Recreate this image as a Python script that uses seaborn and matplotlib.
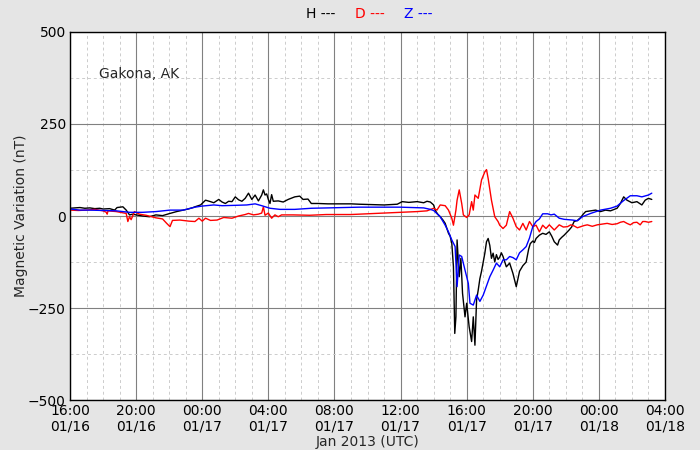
import matplotlib
matplotlib.use("Agg")
import matplotlib.pyplot as plt
import matplotlib.dates as mdates
from matplotlib.ticker import MultipleLocator
import seaborn as sns
import pandas as pd

# ---- data (hours since 2013-01-16 16:00 UTC, values in nT) ----
start_time = "2013-01-16 16:00"

h_hours = [0, 0.3, 0.6, 0.9, 1.2, 1.5, 1.8, 2.0, 2.4, 2.7, 2.85, 3.2, 3.4, 3.6, 3.8, 4.0,
           4.4, 4.8, 5.2, 5.6, 6.05, 6.45, 6.85, 7.15, 7.45, 7.56, 7.9, 8.2, 8.5, 8.7,
           9.0, 9.2, 9.4, 9.6, 9.8, 10.0, 10.2, 10.4, 10.6, 10.8, 11.0, 11.2, 11.4, 11.6,
           11.7, 11.8, 11.9, 12.0, 12.1, 12.2, 12.3, 12.6, 12.9, 13.2, 13.6, 13.9, 14.1,
           14.4, 14.6, 15.0, 15.6, 16.3, 17.0, 17.5, 18.3, 19.0, 19.8, 20.1, 20.5, 21.0,
           21.4, 21.6, 21.8, 22.0, 22.1, 22.25, 22.4, 22.55, 22.7, 22.9, 23.0, 23.1, 23.2,
           23.28, 23.35, 23.42, 23.55, 23.65, 23.75, 23.9, 24.0, 24.15, 24.3, 24.4, 24.5,
           24.6, 24.7, 24.8, 24.9, 25.0, 25.1, 25.2, 25.3, 25.4, 25.5, 25.6, 25.7, 25.8,
           25.9, 26.0, 26.1, 26.2, 26.4, 26.6, 26.8, 27.0, 27.2, 27.4, 27.6, 27.75, 27.85,
           28.0, 28.1, 28.2, 28.4, 28.6, 28.8, 29.0, 29.15, 29.3, 29.5, 29.6, 29.75, 29.9,
           30.05, 30.2, 30.35, 30.5, 30.7, 30.9, 31.05, 31.2, 31.5, 31.8, 32.1, 32.4, 32.7,
           33.1, 33.3, 33.5, 33.7, 34.0, 34.3, 34.6, 34.8, 35.0, 35.2]
h_values = [21, 22, 23, 21, 22, 20, 21, 19, 20, 16, 23, 25, 16, 3, 5, 3,
            0, -2, 3, 1, 7, 12, 16, 19, 23, 25, 30, 43, 39, 36,
            45, 38, 34, 40, 39, 52, 44, 40, 48, 62, 45, 57, 41, 57,
            71, 57, 60, 45, 34, 58, 40, 41, 38, 45, 52, 54, 45,
            46, 34, 34, 33, 33, 33, 32, 31, 30, 32, 39, 37, 39,
            36, 40, 38, 30, 15, 5, -2, -10, -20, -47, -55, -74, -138,
            -319, -274, -65, -165, -115, -210, -274, -237, -301, -341, -274, -351,
            -228, -201, -170, -150, -125, -101, -70, -61, -80, -115, -101, -125, -105,
            -118, -112, -100, -110, -138, -128, -156, -192, -150, -135, -125, -90, -75,
            -68, -72, -61, -52, -47, -50, -43, -55, -70, -79, -65, -58, -52,
            -45, -38, -30, -15, -12, -4, 5, 12, 14, 16, 12, 16, 14,
            21, 34, 52, 43, 36, 39, 30, 43, 48, 45]

d_hours = [0, 0.5, 1.0, 1.5, 2.0, 2.2, 2.25, 2.3, 2.8, 3.4, 3.5, 3.6, 3.7, 3.9, 4.2,
           4.6, 5.2, 5.6, 5.85, 6.05, 6.2, 6.65, 7.2, 7.56, 7.8, 8.0, 8.2, 8.5, 8.9,
           9.3, 9.8, 10.2, 10.6, 10.8, 11.1, 11.4, 11.6, 11.7, 11.8, 12.0, 12.2, 12.4,
           12.6, 12.8, 13.5, 14.5, 15.5, 17.0, 18.0, 19.0, 20.0, 21.0, 21.6, 22.0, 22.2,
           22.4, 22.7, 22.9, 23.1, 23.2, 23.35, 23.42, 23.55, 23.7, 23.8, 24.0, 24.15,
           24.3, 24.4, 24.5, 24.7, 24.9, 25.1, 25.2, 25.3, 25.5, 25.7, 25.9, 26.0, 26.2,
           26.4, 26.6, 26.8, 27.0, 27.2, 27.4, 27.6, 27.8, 28.0, 28.2, 28.4, 28.6, 28.8,
           29.0, 29.3, 29.6, 29.85, 30.1, 30.3, 30.5, 30.7, 30.9, 31.1, 31.3, 31.6, 31.9,
           32.2, 32.5, 32.8, 33.1, 33.3, 33.5, 33.7, 33.9, 34.1, 34.3, 34.5, 34.65, 34.8,
           35.0, 35.2]
d_values = [16, 15, 16, 18, 14, 10, 5, 14, 12, 7, -15, -2, -10, 12, 5,
            2, -5, -8, -20, -29, -12, -11, -14, -15, -6, -14, -6, -12, -11,
            -4, -6, 0, 4, 7, 3, 5, 8, 25, 2, 8, -6, 3,
            -2, 3, 3, 2, 4, 4, 6, 8, 10, 12, 14, 21, 16,
            30, 28, 16, -6, -25, 16, 43, 71, 34, 3, -4, 3,
            39, 16, 57, 48, 98, 120, 126, 102, 43, -2, -15, -25, -34,
            -25, 12, -6, -29, -38, -20, -38, -15, -29, -25, -43, -25, -34,
            -24, -38, -24, -30, -29, -24, -27, -32, -29, -26, -24, -28, -24,
            -22, -20, -23, -21, -17, -15, -20, -24, -18, -17, -24, -15, -15,
            -17, -15]

z_hours = [0, 0.6, 1.2, 2.0, 2.8, 3.6, 4.4, 5.2, 6.05, 6.85, 7.56, 8.0, 8.7, 9.2,
           10.0, 10.7, 11.2, 11.6, 12.1, 12.7, 13.6, 14.6, 15.6, 17.5, 20.0, 21.4, 21.8,
           22.0, 22.4, 22.7, 22.9, 23.1, 23.3, 23.42, 23.55, 23.7, 23.9, 24.1, 24.2, 24.4,
           24.6, 24.8, 25.0, 25.2, 25.4, 25.6, 25.8, 26.0, 26.2, 26.4, 26.6, 26.8, 27.0,
           27.2, 27.4, 27.6, 27.8, 28.0, 28.2, 28.4, 28.6, 28.9, 29.1, 29.3, 29.6, 29.9,
           30.4, 30.7, 31.0, 31.5, 32.1, 32.7, 33.1, 33.5, 33.9, 34.3, 34.6, 35.0, 35.2]
z_values = [19, 16, 16, 15, 14, 10, 10, 12, 16, 16, 24, 27, 30, 28,
            29, 30, 33, 28, 21, 18, 18, 21, 22, 24, 24, 22, 18,
            15, -2, -25, -43, -65, -83, -192, -106, -110, -147, -183, -237, -242,
            -215, -232, -215, -190, -165, -147, -128, -138, -119, -119, -110, -113, -119,
            -100, -92, -83, -60, -29, -15, -8, 6, 6, 3, 5, -6, -9,
            -11, -13, -2, 7, 16, 21, 27, 42, 55, 55, 52, 57, 62]

series_names = ["H", "D", "Z"]
series_colors = ["black", "red", "blue"]

# ---- build table ----
t0 = pd.Timestamp(start_time)
frames = []
for name, hrs, vals in zip(series_names, [h_hours, d_hours, z_hours], [h_values, d_values, z_values]):
    frames.append(pd.DataFrame({"time": t0 + pd.to_timedelta(hrs, unit="h"),
                                "value": vals, "component": name}))
df = pd.concat(frames, ignore_index=True)

sns.set_style("white")
plt.rcParams["font.family"] = ["DejaVu Sans"]

fig = plt.figure(figsize=(7, 4.5), dpi=100, facecolor="#e5e5e5")
ax = fig.add_axes([0.1, 0.111, 0.85, 0.818])
ax.set_facecolor("white")

sns.lineplot(data=df, x="time", y="value", hue="component",
             palette=dict(zip(series_names, series_colors)),
             hue_order=series_names, linewidth=1.0, legend=False, ax=ax,
             estimator=None, sort=False)

ax.set_xlim(t0, t0 + pd.Timedelta(hours=36))
ax.set_ylim(-500, 500)
ax.yaxis.set_major_locator(MultipleLocator(250))
ax.yaxis.set_minor_locator(MultipleLocator(125))
ax.xaxis.set_major_locator(mdates.HourLocator(byhour=range(0, 24, 4)))
ax.xaxis.set_minor_locator(mdates.HourLocator())
ax.xaxis.set_major_formatter(mdates.DateFormatter("%H:%M\n%m/%d"))

ax.grid(which="major", color="#808080", linestyle="-", linewidth=0.8)
ax.grid(which="minor", color="#cccccc", linestyle=(0, (3, 3)), linewidth=0.7)
ax.set_axisbelow(True)
ax.tick_params(which="both", length=0, labelsize=10, colors="black")
ax.tick_params(axis="x", pad=2.5)
ax.tick_params(axis="y", pad=3)
for s in ax.spines.values():
    s.set_color("black")
    s.set_linewidth(1.0)

ax.set_xlabel("Jan 2013 (UTC)", fontsize=10, labelpad=1)
ax.set_ylabel("Magnetic Variation (nT)", fontsize=10, labelpad=0)
ax.text(0.048, 0.885, "Gakona, AK", transform=ax.transAxes, fontsize=10, ha="left", va="center")

for name, color, xpos in zip(series_names, series_colors, [0.458, 0.529, 0.597]):
    fig.text(xpos, 0.969, f"{name} ---", color=color, fontsize=10, ha="center", va="center")

fig.savefig("out.png", dpi=100, facecolor=fig.get_facecolor())
